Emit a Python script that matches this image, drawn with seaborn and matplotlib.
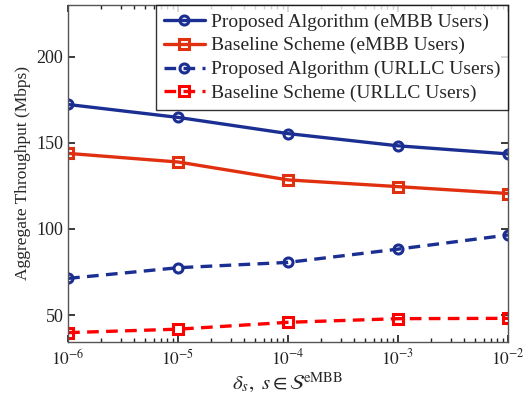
import numpy as np
import pandas as pd
import matplotlib
matplotlib.use('Agg')
import matplotlib.pyplot as plt
import seaborn as sns

delta = [1e-6, 1e-5, 1e-4, 1e-3, 1e-2]
prop_embb = [172.3, 164.8, 155.4, 148.3, 143.6]
base_embb = [143.9, 138.9, 128.5, 124.6, 120.6]
prop_urllc = [71.3, 77.5, 80.6, 88.3, 96.5]
base_urllc = [39.8, 41.8, 45.8, 47.9, 48.1]

labels = ['Proposed Algorithm (eMBB Users)', 'Baseline Scheme (eMBB Users)',
          'Proposed Algorithm (URLLC Users)', 'Baseline Scheme (URLLC Users)']
series = [prop_embb, base_embb, prop_urllc, base_urllc]

df = pd.DataFrame({
    'delta': delta * 4,
    'throughput': sum(series, []),
    'scheme': [lab for lab in labels for _ in delta],
})

sns.set_theme(style='ticks')
plt.rcParams['font.family'] = ['Liberation Serif', 'DejaVu Serif']
plt.rcParams['mathtext.fontset'] = 'stix'

colors = ['#1b2f93', '#e0300f', '#1b2f93', '#ff0000']
styles = [(), (), (3.5, 2.2), (3.5, 2.2)]
markers = ['o', 's', 'o', 's']

fig, ax = plt.subplots(figsize=(5.24, 3.96), dpi=100)
for lab, c, d, m in zip(labels, colors, styles, markers):
    sub = df[df['scheme'] == lab]
    sns.lineplot(data=sub, x='delta', y='throughput', ax=ax, color=c, marker=m,
                 markersize=6.5, markerfacecolor='none', markeredgecolor=c,
                 markeredgewidth=2.2, linewidth=2.4, label=lab,
                 linestyle='-' if not d else '--', dashes=False)
for line, d in zip(ax.get_lines(), styles):
    if d:
        line.set_dashes(d)

ax.set_xscale('log')
ax.set_xlim(1e-6, 1e-2)
ax.set_ylim(34.5, 230)
ax.set_yticks([50, 100, 150, 200])
ax.set_xticks(delta)
ax.set_xticklabels([r'$10^{-6}$', r'$10^{-5}$', r'$10^{-4}$', r'$10^{-3}$', r'$10^{-2}$'])
ax.tick_params(which='both', direction='in', top=True, right=True, labelsize=13,
               colors='#222222')
ax.tick_params(axis='x', labelsize=12.5, pad=5)
ax.tick_params(which='major', length=5)
ax.tick_params(which='minor', length=3)
for s in ax.spines.values():
    s.set_color('#555555')
    s.set_linewidth(1.0)

ax.set_xlabel(r'$\delta_s,\ s\in\mathcal{S}^{\mathrm{eMBB}}$', fontsize=15, labelpad=1)
ax.set_ylabel('Aggregate Throughput (Mbps)', fontsize=12.5)

leg = ax.legend(loc='upper right', borderaxespad=0, fontsize=14, handlelength=2.1,
                labelspacing=0.32, borderpad=0.4, handletextpad=0.3, fancybox=False)
leg.get_frame().set_edgecolor('black')
leg.get_frame().set_linewidth(1.0)
for h, d in zip(leg.get_lines(), styles):
    if d:
        h.set_dashes(d)

fig.subplots_adjust(left=0.13, right=0.9695, top=0.987, bottom=0.137)
fig.savefig('out.png', dpi=100)
